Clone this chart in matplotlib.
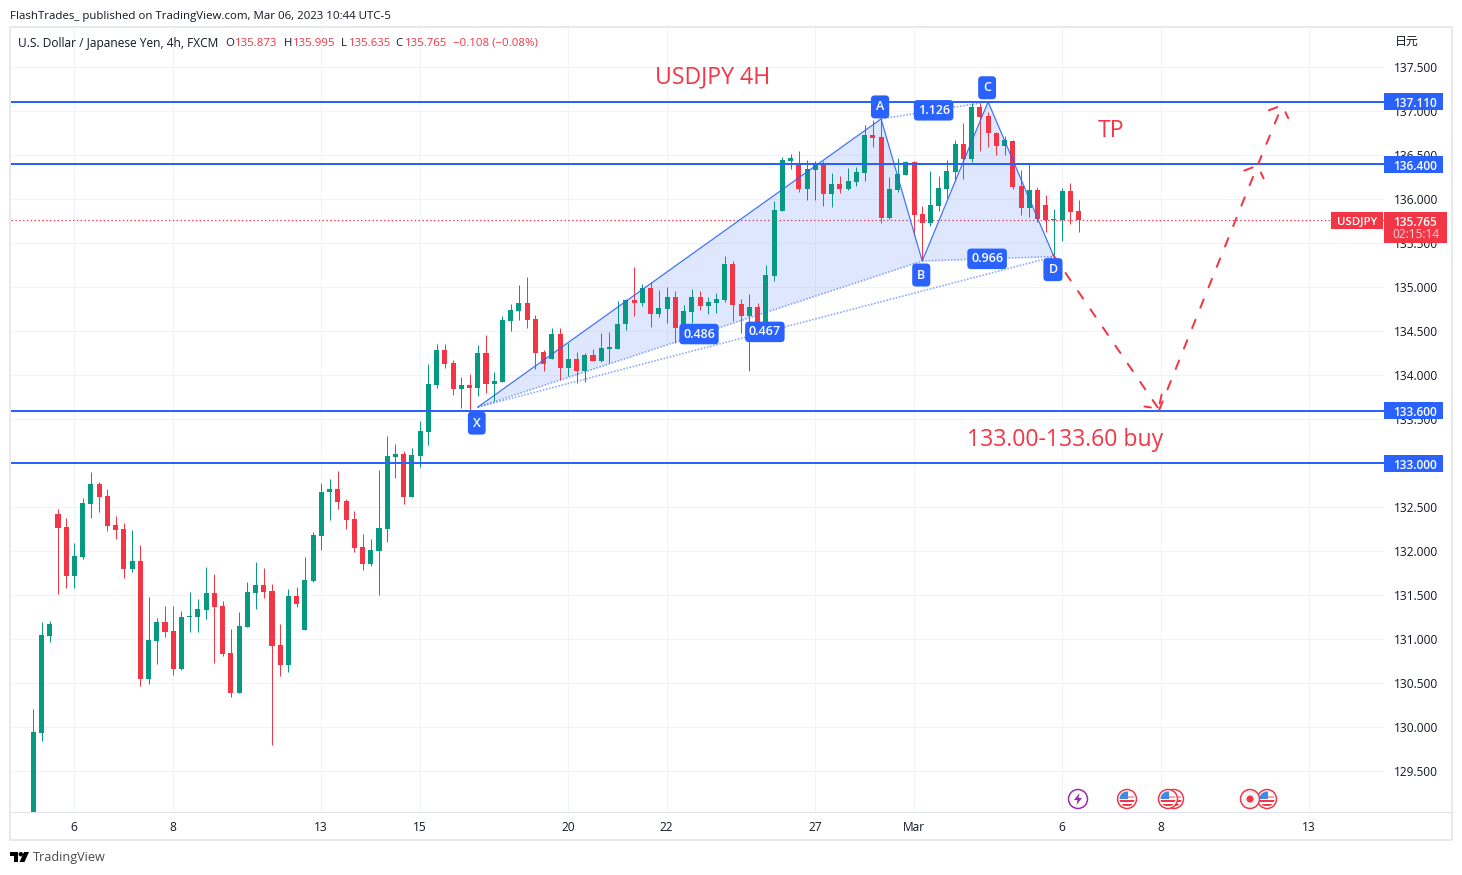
import matplotlib
matplotlib.use("Agg")
import matplotlib.pyplot as plt
from matplotlib.patches import Rectangle, Circle, Polygon
from matplotlib.transforms import ScaledTranslation

plt.rcParams["font.family"] = ["Open Sans", "Noto Sans CJK JP", "DejaVu Sans"]

# 4h candles
opens = [128.90, 129.94, 131.04, 132.43, 132.28, 131.72, 131.94, 132.54, 132.77, 132.63,
         132.30, 132.26, 131.80, 131.89, 130.55, 130.98, 131.20, 131.10, 130.66, 131.25,
         131.26, 131.34, 131.53, 131.38, 130.85, 130.39, 131.14, 131.53, 131.62, 131.55,
         130.94, 130.71, 131.49, 131.11, 131.66, 132.18, 132.67, 132.71, 132.57, 132.37,
         132.05, 131.86, 132.00, 132.26, 133.07, 133.11, 132.62, 133.09, 133.36, 133.89,
         134.29, 134.14, 133.85, 133.89, 133.86, 134.26, 133.90, 133.93, 134.62, 134.73,
         134.82, 134.64, 134.27, 134.19, 134.47, 134.09, 134.19, 134.05, 134.23, 134.16,
         134.30, 134.30, 134.58, 134.86, 134.82, 134.99, 134.70, 134.76, 134.89, 134.54,
         134.72, 134.89, 134.79, 134.82, 134.86, 135.27, 134.81, 134.68, 134.78, 134.59,
         135.13, 135.87, 136.44, 136.40, 136.12, 136.33, 136.39, 136.06, 136.18, 136.12,
         136.20, 136.30, 136.73, 136.71, 135.79, 136.11, 136.28, 136.43, 135.83, 135.73,
         135.93, 136.12, 136.31, 136.63, 136.46, 137.05, 136.95, 136.76, 136.61, 136.66,
         136.15, 135.90, 136.11, 135.94, 135.77, 135.77, 136.10, 135.873]
highs = [130.21, 131.20, 131.21, 132.48, 132.38, 132.10, 132.61, 132.90, 132.79, 132.71,
         132.40, 132.32, 132.24, 132.07, 131.48, 131.24, 131.38, 131.38, 131.32, 131.54,
         131.46, 131.82, 131.74, 131.44, 131.12, 131.31, 131.65, 131.88, 131.81, 131.63,
         131.18, 131.57, 131.60, 131.94, 132.22, 132.78, 132.82, 132.91, 132.60, 132.46,
         132.20, 132.14, 132.93, 133.31, 133.22, 133.14, 133.18, 133.48, 134.13, 134.36,
         134.36, 134.17, 133.98, 134.02, 134.35, 134.46, 134.04, 134.67, 134.81, 135.03,
         135.12, 134.69, 134.29, 134.54, 134.54, 134.37, 134.27, 134.25, 134.30, 134.48,
         134.49, 134.85, 134.87, 135.23, 135.04, 135.06, 134.97, 135.00, 134.96, 134.80,
         134.98, 134.96, 134.89, 134.94, 135.36, 135.30, 134.87, 134.93, 134.82, 135.25,
         135.98, 136.48, 136.52, 136.55, 136.45, 136.44, 136.44, 136.30, 136.27, 136.36,
         136.37, 136.85, 136.90, 136.90, 136.25, 136.47, 136.44, 136.44, 135.93, 136.32,
         136.27, 136.45, 136.68, 136.87, 137.10, 137.10, 136.99, 136.77, 136.72, 136.67,
         136.34, 136.40, 136.14, 136.05, 135.89, 136.13, 136.19, 135.995]
lows = [128.80, 129.85, 130.97, 131.52, 131.58, 131.58, 131.91, 132.38, 132.45, 132.23,
        132.14, 131.70, 131.77, 130.47, 130.49, 130.72, 131.03, 130.60, 130.65, 131.09,
        131.09, 131.23, 130.73, 130.81, 130.35, 130.39, 131.14, 131.35, 131.47, 129.80,
        130.58, 130.63, 131.37, 131.11, 131.65, 132.02, 132.36, 132.48, 132.26, 131.99,
        131.79, 131.83, 131.50, 132.11, 132.83, 132.54, 132.62, 132.96, 133.21, 133.86,
        134.08, 133.78, 133.63, 133.61, 133.77, 133.80, 133.71, 133.93, 134.51, 134.63,
        134.54, 134.07, 134.05, 134.19, 133.95, 133.99, 133.91, 133.93, 134.16, 134.15,
        134.14, 134.30, 134.52, 134.68, 134.79, 134.55, 134.66, 134.60, 134.37, 134.46,
        134.60, 134.74, 134.70, 134.71, 134.83, 134.62, 134.48, 134.05, 134.52, 134.57,
        135.07, 135.87, 136.35, 136.08, 135.99, 135.99, 135.93, 135.91, 136.07, 136.11,
        136.15, 136.21, 136.60, 135.73, 135.78, 136.08, 136.28, 135.60, 135.31, 135.70,
        135.87, 136.02, 136.21, 136.23, 136.43, 136.55, 136.60, 136.50, 136.50, 136.12,
        135.82, 135.80, 135.74, 135.63, 135.37, 135.53, 135.72, 135.635]
closes = [129.95, 131.05, 131.18, 132.27, 131.72, 131.95, 132.55, 132.77, 132.62, 132.29,
          132.24, 131.80, 131.89, 130.55, 130.99, 131.20, 131.09, 130.66, 131.26, 131.27,
          131.35, 131.53, 131.37, 130.83, 130.39, 131.15, 131.54, 131.62, 131.54, 130.93,
          130.71, 131.49, 131.40, 131.68, 132.19, 132.68, 132.71, 132.56, 132.36, 132.04,
          131.86, 132.02, 132.27, 133.09, 133.11, 132.62, 133.10, 133.37, 133.90, 134.29,
          134.13, 133.85, 133.89, 133.86, 134.26, 133.90, 133.94, 134.63, 134.74, 134.82,
          134.63, 134.26, 134.13, 134.47, 134.09, 134.19, 134.05, 134.23, 134.16, 134.31,
          134.32, 134.58, 134.86, 134.82, 134.99, 134.70, 134.77, 134.89, 134.54, 134.73,
          134.89, 134.79, 134.83, 134.87, 135.27, 134.80, 134.68, 134.78, 134.59, 135.14,
          135.88, 136.45, 136.47, 136.12, 136.35, 136.39, 136.06, 136.18, 136.12, 136.21,
          136.31, 136.73, 136.70, 135.79, 136.12, 136.29, 136.43, 135.82, 135.73, 135.94,
          136.13, 136.32, 136.63, 136.46, 137.05, 136.94, 136.75, 136.61, 136.67, 136.14,
          135.90, 136.11, 135.78, 135.77, 135.78, 136.10, 135.86, 135.765]

# bar positions of the date labels
date_bars = [5, 17, 35, 47, 65, 77, 95, 107, 125, 137, 155]
date_labels = ["6", "8", "13", "15", "20", "22", "27", "Mar", "6", "8", "13"]

price_ticks = [129.5, 130.0, 130.5, 131.0, 131.5, 132.0, 132.5, 133.0, 133.5,
               134.0, 134.5, 135.0, 135.5, 136.0, 136.5, 137.0, 137.5]

# horizontal levels
levels = [137.11, 136.40, 133.60, 133.00]
last_price = 135.765

# XABCD pattern: bar, price
pattern_bars = [54, 103, 108, 116, 124]
pattern_prices = [133.64, 136.915, 135.30, 137.11, 135.35]
pattern_names = ["X", "A", "B", "C", "D"]
ratio_labels = ["0.486", "0.467", "1.126", "0.966"]

# red dashed projection
proj_bars = [123.9, 136.8, 148.8, 151.8]
proj_prices = [135.37, 133.61, 136.40, 137.085]

BLUE = "#2962FF"
RED = "#F23645"
GREEN = "#089981"
GRID = "#F0F3FA"
BORDER = "#E0E3EB"
TEXT = "#131722"

W, H = 1462, 875
LEFT, RIGHT, TOP, BOTTOM = 11, 1384, 28, 812
BAR_PX = 8.23
PRICE_PX = 88.0
TAG_NUDGE = 2 / PRICE_PX  # the font sits a little high in its box


def px_lw(n):
    return n * 72 / 100


fig = plt.figure(figsize=(W / 100, H / 100), dpi=100, facecolor="white")
ax = fig.add_axes([LEFT / W, 1 - BOTTOM / H, (RIGHT - LEFT) / W, (BOTTOM - TOP) / H])
ax.set_xlim(-2.71, 164.1)
ax.set_ylim(129.039, 137.948)
xmax = ax.get_xlim()[1]

for s in ["top", "left", "right"]:
    ax.spines[s].set_visible(False)
ax.spines["bottom"].set_color(BORDER)
ax.spines["bottom"].set_linewidth(px_lw(1))

ax.set_xticks(date_bars)
ax.set_xticklabels(date_labels)
ax.set_yticks(price_ticks)
# 133.000 sits fully under its level tag
ax.set_yticklabels(["" if p in levels else "%.3f" % p for p in price_ticks])
ax.yaxis.tick_right()
ax.tick_params(axis="x", length=0, pad=6.5, labelsize=8.6, labelcolor=TEXT)
ax.tick_params(axis="y", length=0, pad=7.5, labelsize=8.6, labelcolor=TEXT)
ax.grid(color=GRID, lw=px_lw(1))
ax.set_axisbelow(True)
shift = ScaledTranslation(-0.5 / 100, 0, fig.dpi_scale_trans)
for lbl in ax.get_xticklabels():
    lbl.set_transform(lbl.get_transform() + shift)

# candles
bars = list(range(len(opens)))
colors = [GREEN if c >= o else RED for o, c in zip(opens, closes)]
ax.vlines(bars, lows, highs, colors=colors, lw=px_lw(1), zorder=3, snap=True)
ax.bar(bars, [abs(c - o) for o, c in zip(opens, closes)],
       bottom=[min(o, c) for o, c in zip(opens, closes)],
       width=0.61, color=colors, lw=0, zorder=3.1)

# last price and levels
ax.axhline(last_price, color=RED, lw=px_lw(1.2), ls=(0, (1.2, 2)), zorder=2.8)
for lv in levels:
    ax.axhline(lv, color=BLUE, lw=px_lw(2), zorder=3.5)

# pattern
xb, pb = pattern_bars, pattern_prices
ax.fill([xb[0], xb[1], xb[2]], [pb[0], pb[1], pb[2]], color=BLUE, alpha=0.15, lw=0, zorder=2.9)
ax.fill([xb[2], xb[3], xb[4]], [pb[2], pb[3], pb[4]], color=BLUE, alpha=0.15, lw=0, zorder=2.9)
ax.plot(xb, pb, color=BLUE, lw=px_lw(1.2), alpha=0.9, zorder=3.3)
for a, b in [(0, 2), (0, 4), (1, 3), (2, 4)]:
    ax.plot([xb[a], xb[b]], [pb[a], pb[b]], color=BLUE, lw=px_lw(1.6), ls=(0, (1, 1)),
            alpha=0.55, zorder=3.3)

badge_offsets = {"X": (-1, -16), "A": (-1, 12), "B": (-1, -14), "C": (-1, 14), "D": (-1, -13)}
for name, x, p in zip(pattern_names, xb, pb):
    ax.annotate(name, (x, p), xytext=badge_offsets[name], textcoords="offset pixels",
                ha="center", va="center", color="white", fontsize=9, fontweight="semibold", zorder=6,
                bbox=dict(boxstyle="round,pad=0.4,rounding_size=0.3", fc=BLUE, ec="none"))

for label, (a, b) in zip(ratio_labels, [(0, 2), (0, 4), (1, 3), (2, 4)]):
    ax.annotate(label, ((xb[a] + xb[b]) / 2, (pb[a] + pb[b]) / 2), xytext=(-1, 0), textcoords="offset pixels",
                ha="center", va="center", color="white", fontsize=9, fontweight="semibold", zorder=6,
                bbox=dict(boxstyle="round,pad=0.3,rounding_size=0.3", fc=BLUE, ec="none"))

# projection path, dashes run through the arrow heads as well
dash = (0, (4.5, 6.5))
for i in range(len(proj_bars) - 1):
    ax.annotate("", xy=(proj_bars[i + 1], proj_prices[i + 1]), xytext=(proj_bars[i], proj_prices[i]),
                zorder=5, arrowprops=dict(arrowstyle="->,head_length=0.7,head_width=0.75", color=RED,
                                          lw=px_lw(2), linestyle=dash, shrinkA=0, shrinkB=0))

# chart notes
ax.text(82.5, 137.39, "USDJPY 4H", color=RED, fontsize=16.6, ha="center", va="center", zorder=6)
ax.text(131, 136.78, "TP", color=RED, fontsize=16.6, ha="center", va="center", zorder=6)
ax.text(125.3, 133.27, "133.00-133.60 buy", color=RED, fontsize=16.6, ha="center", va="center", zorder=6)

# price scale tags
for lv in levels:
    ax.add_patch(Rectangle((xmax, lv - 8.5 / PRICE_PX), 59 / BAR_PX, 17 / PRICE_PX, fc=BLUE, ec="none",
                           clip_on=False, zorder=7))
    ax.text(xmax + 31 / BAR_PX, lv - TAG_NUDGE, "%.3f" % lv, color="white", fontsize=8.6, fontweight="semibold",
            ha="center", va="center", clip_on=False, zorder=8)
ax.add_patch(Rectangle((xmax, last_price - 22.8 / PRICE_PX), 63 / BAR_PX, 31 / PRICE_PX, fc=RED, ec="none",
                       clip_on=False, zorder=7))
ax.text(xmax + 31 / BAR_PX, last_price - TAG_NUDGE, "%.3f" % last_price, color="white", fontsize=8.6,
        fontweight="semibold", ha="center", va="center", zorder=8, clip_on=False)
ax.text(xmax + 32 / BAR_PX, last_price - 14.5 / PRICE_PX, "02:15:14", color="#FBD5D9", fontsize=8.6,
        ha="center", va="center", zorder=8, clip_on=False)
ax.add_patch(Rectangle((xmax - 53 / BAR_PX, last_price - 8.8 / PRICE_PX), 52 / BAR_PX, 17 / PRICE_PX,
                       fc=RED, ec="none", zorder=7))
ax.text(xmax - 27 / BAR_PX, last_price - TAG_NUDGE, "USDJPY", color="white", fontsize=8.2, fontweight="semibold",
        ha="center", va="center", zorder=8)

# pixel overlay for the frame, header and icons
ov = fig.add_axes([0, 0, 1, 1], zorder=10)
ov.set_xlim(0, W)
ov.set_ylim(H, 0)
ov.axis("off")
ov.add_patch(Rectangle((10, 27), 1442, 813, fc="none", ec=BORDER, lw=px_lw(1.5)))
ov.plot([RIGHT, 1452], [BOTTOM, BOTTOM], color=BORDER, lw=px_lw(1))

ov.text(10, 16, "FlashTrades_ published on TradingView.com, Mar 06, 2023 10:44 UTC-5",
        fontsize=8.25, color=TEXT, va="center")
ov.text(18, 43, "U.S. Dollar / Japanese Yen, 4h, FXCM", fontsize=8.55, color=TEXT, va="center")
ohlc_header = [(225.5, "O", TEXT), (235, "135.873", RED), (284, "H", TEXT), (293, "135.995", RED),
               (341, "L", TEXT), (348.5, "135.635", RED), (395.5, "C", TEXT), (404.5, "135.765", RED),
               (453, "\u22120.108 (\u22120.08%)", RED)]
for x, s, c in ohlc_header:
    ov.text(x, 43, s, fontsize=8.2, color=c, va="center")
ov.text(1395, 41, "日元", fontsize=8.6, color=TEXT, va="center")
ov.text(33, 858, "TradingView", fontsize=9.1, color="#4A4A4A", va="center")

# TradingView mark
ov.add_patch(Polygon([(10, 852), (18, 852), (18, 862), (13.5, 862), (13.5, 856), (10, 856)], fc="black", ec="none"))
ov.add_patch(Circle((20.8, 854.2), 2.2, fc="black", ec="none"))
ov.add_patch(Polygon([(24, 852), (29, 852), (24.5, 862), (19.5, 862)], fc="black", ec="none"))


def flag_icon(cx, cy):
    ov.add_patch(Circle((cx, cy), 9.5, fc="white", ec=RED, lw=px_lw(1.5)))
    clip = Circle((cx, cy), 7.5, transform=ov.transData)
    parts = [Rectangle((cx - 8, cy + 1), 16, 2.2, fc=RED, ec="none"),
             Rectangle((cx - 8, cy + 4.8), 16, 2.5, fc=RED, ec="none"),
             Rectangle((cx - 8, cy - 3), 16, 1.6, fc="#F6A6AE", ec="none"),
             Rectangle((cx - 8, cy - 8), 9, 8, fc="#3D8BE8", ec="none")]
    for r in parts:
        ov.add_patch(r)
        r.set_clip_path(clip)


ov.add_patch(Circle((1078, 799), 9.5, fc="white", ec="#9C27B0", lw=px_lw(1.5)))
ov.add_patch(Polygon([(1079.5, 793), (1074, 800), (1077.5, 800), (1076.5, 805), (1082, 798), (1078.5, 798)],
                     fc="#9C27B0", ec="none"))
flag_icon(1127, 799)
flag_icon(1174, 799)
flag_icon(1168, 799)
flag_icon(1267, 799)
ov.add_patch(Circle((1250, 799), 9.5, fc="#F5F5F8", ec=RED, lw=px_lw(1.5)))
ov.add_patch(Circle((1250, 799), 3.5, fc=RED, ec="none"))

fig.savefig("out.png", dpi=100)
